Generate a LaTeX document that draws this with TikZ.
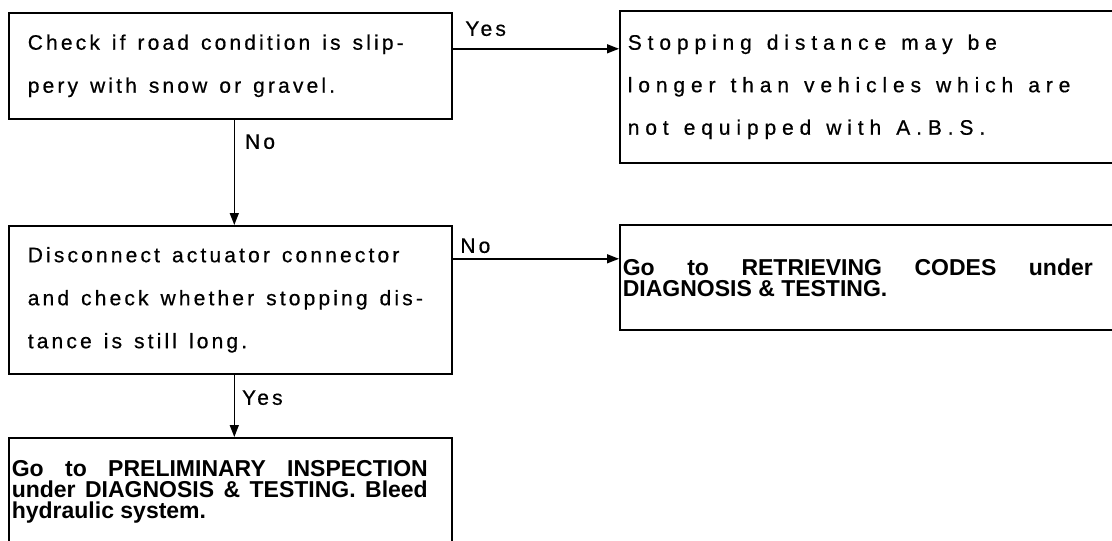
\documentclass[tikz,border=0pt]{standalone}
\usepackage{fontspec}
\setmainfont{Liberation Sans}
\newfontfamily\askfont[LetterSpace=15,FakeBold=0.6]{Liberation Sans}
\newfontfamily\notefont[LetterSpace=28,FakeBold=0.6]{Liberation Sans}
\usetikzlibrary{arrows.meta,positioning}
\tikzset{
  chart/.style={draw,line width=1.6pt,rectangle,anchor=north west,inner ysep=0pt,align=flush left},
  askbox/.style={chart,inner xsep=19pt,text width=405pt,
    font={\askfont\fontsize{21}{43}\selectfont\spaceskip=12pt plus 3pt minus 2pt\relax}},
  notebox/.style={chart,inner xsep=8pt,text width=490pt,
    font={\notefont\fontsize{21}{42.5}\selectfont\spaceskip=15pt plus 3pt minus 2pt\relax}},
  gobox/.style={chart,inner xsep=3pt},
  flow/.style={line width=1.5pt,-{Triangle[length=12pt,width=9pt]}},
  answer/.style={font=\askfont\fontsize{21}{24}\selectfont,inner sep=0pt},
}
\newcommand{\gotext}[2]{\parbox{#1}{\bfseries\fontsize{23}{21}\selectfont
  \leftskip=0pt\rightskip=0pt\spaceskip=0pt\xspaceskip=0pt\parfillskip=0pt plus 1fil\relax #2}}
\begin{document}
\begin{tikzpicture}[x=1pt,y=-1pt]
\useasboundingbox (0,0) rectangle (1112,541);
% the two checks on the left
\node[askbox,minimum height=106pt] (slip) at (8,12) {Check if road condition is slip-\\pery with snow or gravel.};
\node[askbox,minimum height=148pt] (actuator) at (8,225) {Disconnect actuator connector\\and check whether stopping dis-\\tance is still long.};
% outcomes
\node[notebox,minimum height=152pt] (abs) at (619,10) {Stopping distance may be\\longer than vehicles which are\\not equipped with A.B.S.};
\node[gobox,text width=520pt,minimum height=105pt] (codes) at (619,224)
  {\gotext{470pt}{Go to RETRIEVING CODES under\linebreak DIAGNOSIS \& TESTING.}};
\node[gobox,text width=437pt,minimum height=108pt] (prelim) at (8,437)
  {\gotext{416pt}{Go to PRELIMINARY INSPECTION\linebreak under DIAGNOSIS \& TESTING. Bleed\linebreak hydraulic system.}};
% answers
\draw[flow] ([yshift=17pt]slip.east) -- ([yshift=17pt]slip.east -| abs.west)
  node[answer,pos=0,anchor=south west,xshift=12pt,yshift=12pt] (yes1) {Yes};
\draw[flow] ([xshift=4pt]slip.south) -- ([xshift=4pt]slip.south |- actuator.north)
  node[answer,pos=0,anchor=north west,xshift=10pt,yshift=-14pt] (no1) {No};
\draw[flow] ([yshift=41pt]actuator.east) -- ([yshift=41pt]actuator.east -| codes.west)
  node[answer,pos=0,anchor=south west,xshift=7pt,yshift=5pt] (no2) {No};
\draw[flow] ([xshift=4pt]actuator.south) -- ([xshift=4pt]actuator.south |- prelim.north)
  node[answer,pos=0,anchor=north west,xshift=7pt,yshift=-15pt] (yes2) {Yes};
\end{tikzpicture}
\end{document}
